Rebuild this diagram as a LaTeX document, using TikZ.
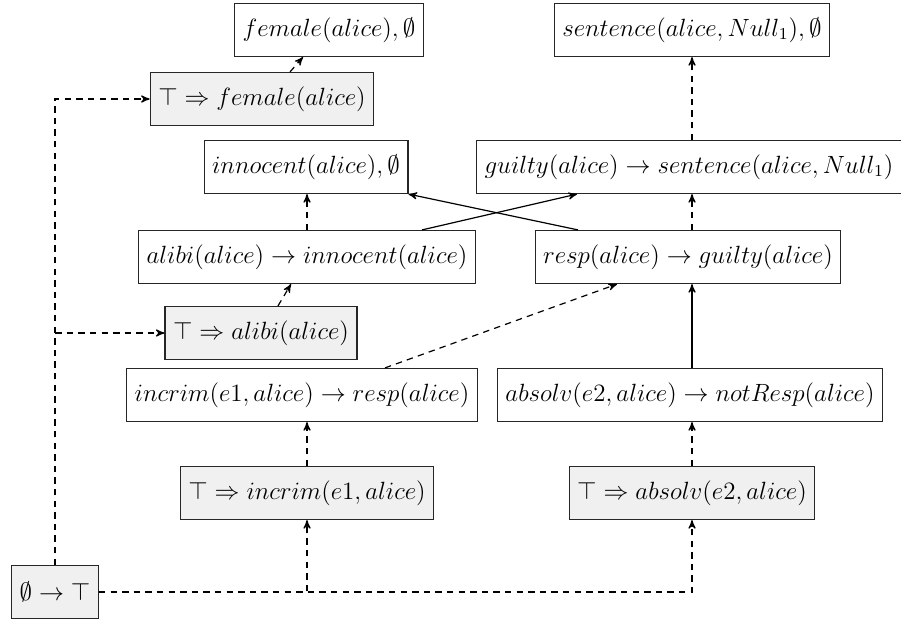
\documentclass[tikz,border=0pt]{standalone}
\usepackage{amsmath,amssymb,graphicx}
\usetikzlibrary{arrows,positioning,calc}
\newcommand{\lbl}[1]{\scalebox{1.04}{$#1$}}
\begin{document}
\begin{tikzpicture}[x=0.5pt,y=-0.5pt,>=stealth',
  rule/.style={draw=black!85,fill=white,font=\large,inner xsep=4pt,inner ysep=0pt,minimum height=26.5pt,line width=0.6pt},
  fact/.style={rule,fill=black!6},
  dep/.style={->,line width=0.6pt,dash pattern=on 3.2pt off 2.6pt},
  strong/.style={->,line width=0.6pt}]
\useasboundingbox (0,0) rectangle (901,618);
% top row
\node[rule] (female) at (329,30) {\lbl{female(alice),\emptyset}};
\node[rule] (sentence) at (692,30) {\lbl{sentence(alice,Null_1),\emptyset}};
\node[fact] (tfemale) at (262,99) {\lbl{\top\Rightarrow female(alice)}};
\node[rule] (innocent) at (306,167) {\lbl{innocent(alice),\emptyset}};
\node[rule] (guilty) at (689,167) {\lbl{guilty(alice)\rightarrow sentence(alice,Null_1)}};
\node[rule] (alibi) at (307,257) {\lbl{alibi(alice)\rightarrow innocent(alice)}};
\node[rule] (resp) at (688,257) {\lbl{resp(alice)\rightarrow guilty(alice)}};
\node[fact] (talibi) at (261,333) {\lbl{\top\Rightarrow alibi(alice)}};
\node[rule] (incrim) at (302,395) {\lbl{incrim(e1,alice)\rightarrow resp(alice)}};
\node[rule] (absolv) at (690,395) {\lbl{absolv(e2,alice)\rightarrow notResp(alice)}};
\node[fact] (tincrim) at (307,493) {\lbl{\top\Rightarrow incrim(e1,alice)}};
\node[fact] (tabsolv) at (692,493) {\lbl{\top\Rightarrow absolv(e2,alice)}};
\node[fact] (root) at (55,592) {\lbl{\emptyset\rightarrow\top}};
% from the root
\draw[dep] (root.north) |- (tfemale.west);
\draw[dep] (root.north) |- (talibi.west);
\draw[dep] (root.east) -| (tincrim.south);
\draw[dep] (root.east) -| (tabsolv.south);
% dashed steps
\draw[dep] ($(tfemale.north)+(28,0)$) -- ($(female.south)+(-26,0)$);
\draw[dep] ($(talibi.north)+(17,0)$) -- ($(alibi.south)+(-16,0)$);
\draw[dep] (alibi.north) -- (alibi.north |- innocent.south);
\draw[dep] (tincrim.north) -- (tincrim.north |- incrim.south);
\draw[dep] (tabsolv.north) -- (tabsolv.north |- absolv.south);
\draw[dep] ($(incrim.north)+(83,0)$) -- ($(resp.south)+(-71,0)$);
\draw[dep] (tabsolv.north |- resp.north) -- (tabsolv.north |- guilty.south);
\draw[dep] (sentence.south |- guilty.north) -- (sentence.south);
% solid steps
\draw[strong] (tabsolv.north |- absolv.north) -- (tabsolv.north |- resp.south);
\draw[strong] ($(alibi.north)+(115,0)$) -- ($(guilty.south)+(-112,0)$);
\draw[strong] ($(resp.north)+(-110,0)$) -- (innocent.south east);
\end{tikzpicture}
\end{document}
